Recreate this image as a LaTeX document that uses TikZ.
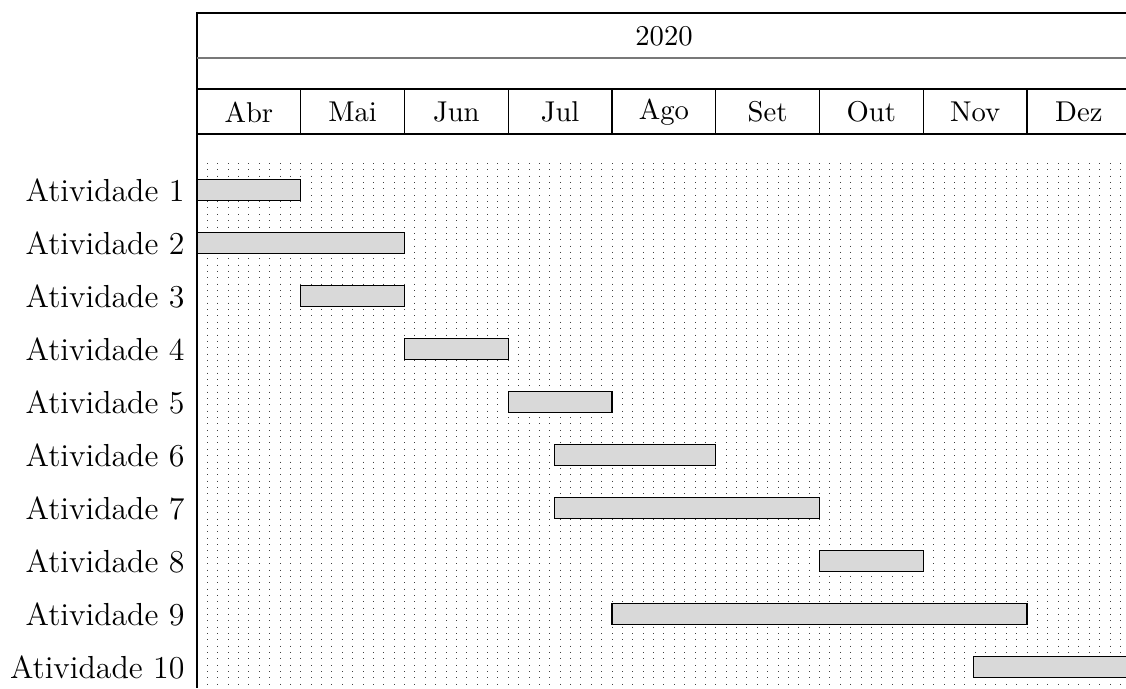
\documentclass[tikz,border=0pt]{standalone}
\usetikzlibrary{positioning}
\definecolor{barfill}{RGB}{217, 217, 217}
\definecolor{rulegray}{RGB}{120, 120, 120}

\begin{document}
\begin{tikzpicture}[x=0.37pt, y=-0.37pt,
  monthlabel/.style={font=\fontsize{10.6}{12}\selectfont, inner sep=0pt},
  tasklabel/.style={font=\fontsize{11.8}{13}\selectfont, anchor=east, inner sep=0pt},
  taskbar/.style={draw=black, fill=barfill, line width=0.4pt}]
  \clip (0,0) rectangle (1126,688);
  % grade pontilhada
  \foreach \k in {1,...,89}
    \draw[black!75, dotted, line width=0.35pt] ({197+\k*10.375},163) -- ({197+\k*10.375},688);
  % cabecalho
  \draw (1131,13) -- (197,13) -- (197,688);
  \draw[rulegray, line width=1pt] (197,58) -- (1131,58);
  \draw (197,89) -- (1131,89);
  \draw (197,134) -- (1131,134);
  \node[monthlabel] (ano) at (664,36) {2020};
  \foreach \m [count=\i from 0] in {Abr, Mai, Jun, Jul, Ago, Set, Out, Nov, Dez} {
    \node[monthlabel] (mes\i) at ({197+(\i+0.5)*103.75},112) {\m};
    \draw ({197+(\i+1)*103.75},89) -- ({197+(\i+1)*103.75},134);
  }
  % atividades
  \foreach \a/\b [count=\i] in {0/1, 0/2, 1/2, 2/3, 3/4, 3.45/5, 3.45/6, 6/7, 4/8, 7.48/9.1} {
    \node[tasklabel] (atv\i) at (185,{137+53*\i}) {Atividade \i};
    \draw[taskbar] ({197+\a*103.75},{137+53*\i-10.5}) rectangle ({197+\b*103.75},{137+53*\i+10.5});
  }
\end{tikzpicture}
\end{document}
